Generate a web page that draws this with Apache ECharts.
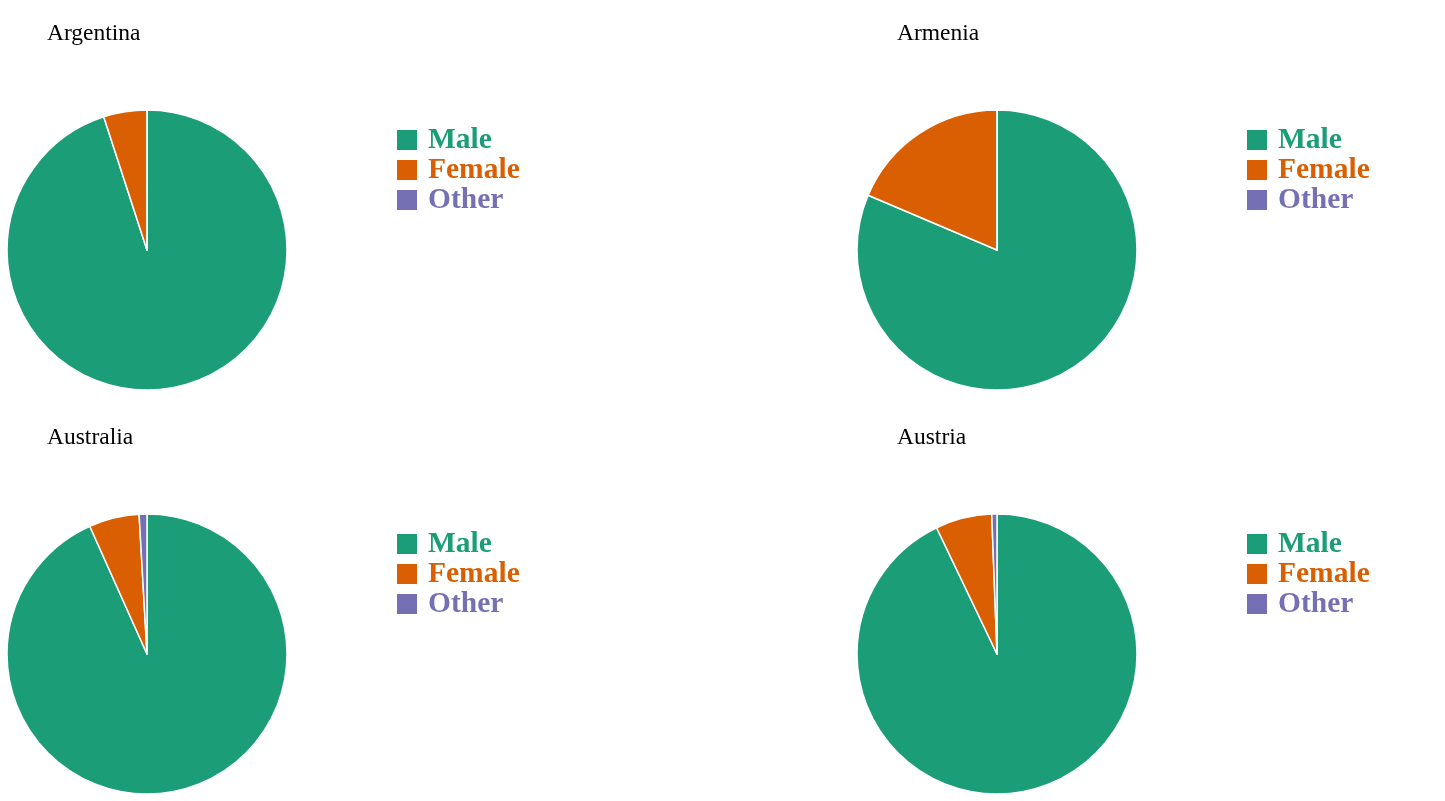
<!DOCTYPE html>
<html>
<head>
<meta charset="utf-8">
<script src="https://cdn.jsdelivr.net/npm/echarts@6/dist/echarts.min.js"></script>
<style>html,body{margin:0;padding:0;background:#fff}#c{width:1445px;height:801px}</style>
</head>
<body>
<div id="c"></div>
<script>
const countries = ["Argentina", "Armenia", "Australia", "Austria"];
const categories = ["Male", "Female", "Other"];
const maleValues = [95.0, 81.4, 93.3, 92.9];
const femaleValues = [5.0, 18.6, 5.8, 6.5];
const otherValues = [0, 0, 0.9, 0.6];
const colors = ["#1b9e77", "#d95f02", "#7570b3"];

const centers = [[147, 250], [997, 250], [147, 654], [997, 654]];
const titlePos = [[47, 22], [897, 22], [47, 426], [897, 426]];
const legendPos = [[397, 125], [1247, 125], [397, 529], [1247, 529]];

const chart = echarts.init(document.getElementById('c'), null, {renderer: 'canvas'});
const title = [], legend = [], series = [];
countries.forEach((name, i) => {
  title.push({
    text: name, left: titlePos[i][0], top: titlePos[i][1], padding: 0,
    textStyle: {fontFamily: 'Liberation Serif, Times New Roman, serif', fontWeight: 'normal', fontSize: 23.5, color: '#000'}
  });
  legend.push({
    orient: 'vertical', left: legendPos[i][0], top: legendPos[i][1], padding: 0,
    itemWidth: 20, itemHeight: 20, itemGap: 0, icon: 'rect',
    selectedMode: false,
    itemStyle: {borderWidth: 0},
    data: categories.map((c, k) => ({name: c, textStyle: {color: colors[k]}})),
    textStyle: {fontFamily: 'Liberation Serif, Times New Roman, serif', fontWeight: 'bold', fontSize: 29.5, lineHeight: 27, padding: [3, 0, 0, 6]}
  });
  series.push({
    type: 'pie', name: name, center: centers[i], radius: [0, 140],
    startAngle: 90, clockwise: true, silent: true, animation: false,
    label: {show: false}, labelLine: {show: false},
    itemStyle: {borderColor: '#fff', borderWidth: 1.5},
    data: [
      {name: categories[0], value: maleValues[i], itemStyle: {color: colors[0]}},
      {name: categories[1], value: femaleValues[i], itemStyle: {color: colors[1]}},
      {name: categories[2], value: otherValues[i], itemStyle: {color: colors[2]}}
    ]
  });
});
chart.setOption({animation: false, color: colors, title, legend, series});
</script>
</body>
</html>
